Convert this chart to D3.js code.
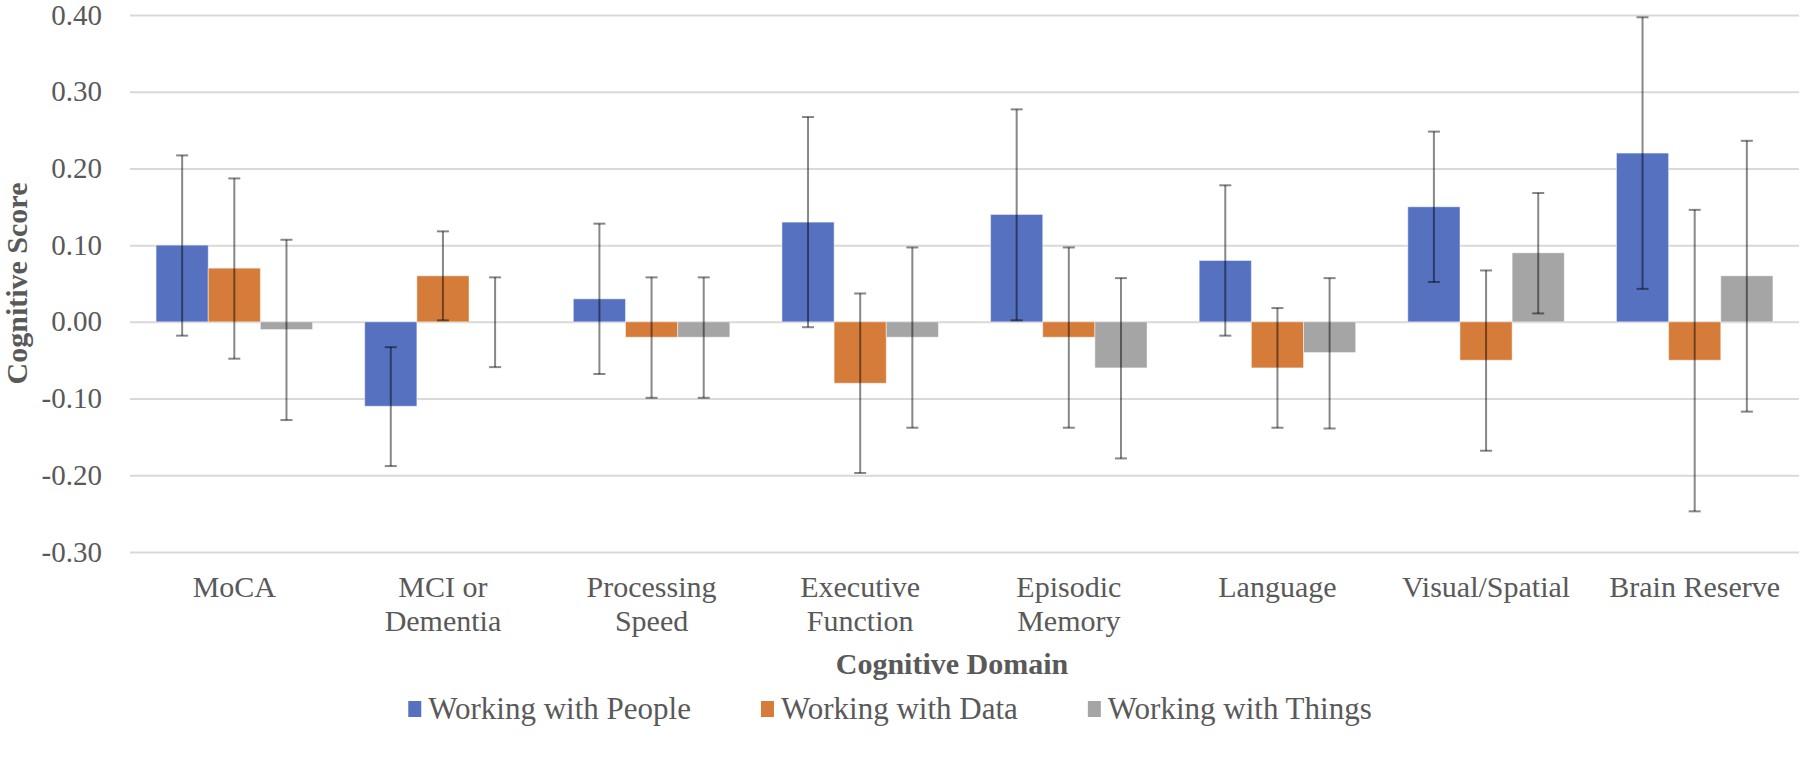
<!DOCTYPE html>
<html>
<head>
<meta charset="utf-8">
<script src="https://cdn.jsdelivr.net/npm/d3@7"></script>
<style>
    body { margin: 0; background: #fff; }
    text { font-family: "Liberation Serif", "Times New Roman", serif; fill: #595959; }
</style>
</head>
<body>
<script>
/* -------------------------- Data -------------------------- */
const categories = ["MoCA", "MCI or Dementia", "Processing Speed", "Executive Function",
    "Episodic Memory", "Language", "Visual/Spatial", "Brain Reserve"];
// how each category label wraps
const categoryLines = [["MoCA"], ["MCI or", "Dementia"], ["Processing", "Speed"], ["Executive", "Function"],
    ["Episodic", "Memory"], ["Language"], ["Visual/Spatial"], ["Brain Reserve"]];
const seriesNames = ["Working with People", "Working with Data", "Working with Things"];

const peopleValues = [0.10, -0.11, 0.03, 0.13, 0.14, 0.08, 0.15, 0.22];
const peopleLow = [-0.018, -0.188, -0.068, -0.007, 0.002, -0.018, 0.052, 0.043];
const peopleHigh = [0.217, -0.033, 0.128, 0.267, 0.277, 0.178, 0.248, 0.397];

const dataValues = [0.07, 0.06, -0.02, -0.08, -0.02, -0.06, -0.05, -0.05];
const dataLow = [-0.048, 0.002, -0.099, -0.197, -0.138, -0.138, -0.168, -0.247];
const dataHigh = [0.187, 0.118, 0.058, 0.037, 0.097, 0.018, 0.067, 0.146];

const thingsValues = [-0.01, 0.00, -0.02, -0.02, -0.06, -0.04, 0.09, 0.06];
const thingsLow = [-0.128, -0.059, -0.099, -0.138, -0.178, -0.139, 0.011, -0.117];
const thingsHigh = [0.107, 0.058, 0.058, 0.097, 0.057, 0.057, 0.168, 0.236];

const yTicks = [-0.30, -0.20, -0.10, 0.00, 0.10, 0.20, 0.30, 0.40];

/* -------------------------- Layout -------------------------- */
const width = 1800;
const height = 760;
const plot = { left: 130, right: 1799, top: 15, bottom: 552 };
const colors = ["#5571c0", "#d57c3a", "#a5a5a5"];
const capWidth = 12;

// one row per category/series pair
const series = [
    { values: peopleValues, low: peopleLow, high: peopleHigh },
    { values: dataValues, low: dataLow, high: dataHigh },
    { values: thingsValues, low: thingsLow, high: thingsHigh }
];
const rows = [];
categories.forEach((c, i) => {
    series.forEach((s, j) => {
        rows.push({ cat: c, name: seriesNames[j], idx: j, value: s.values[i], low: s.low[i], high: s.high[i] });
    });
});

const svg = d3.select("body").append("svg")
    .attr("width", width)
    .attr("height", height);

/* -------------------------- Scales -------------------------- */
const x0 = d3.scaleBand()
    .domain(categories)
    .range([plot.left, plot.right])
    .paddingInner(0)
    .paddingOuter(0);
const x1 = d3.scaleBand()
    .domain(seriesNames)
    .range([0, x0.bandwidth()])
    .paddingInner(0)
    .paddingOuter(0.5);
const y = d3.scaleLinear()
    .domain([-0.3, 0.4])
    .range([plot.bottom, plot.top]);

// Excel style labels: plain hyphen for negatives
const fmt = d => (d < 0 ? "-" : "") + Math.abs(d).toFixed(2);

/* -------------------------- Gridlines + y labels -------------------------- */
const yAxis = svg.append("g")
    .attr("transform", `translate(${plot.left},0)`)
    .call(d3.axisLeft(y).tickValues(yTicks).tickSize(-(plot.right - plot.left)).tickFormat(""));
yAxis.select(".domain").remove();
yAxis.selectAll(".tick line").attr("stroke", "#d9d9d9").attr("stroke-width", 2);

svg.append("g")
    .selectAll("text")
    .data(yTicks)
    .join("text")
    .attr("x", 102)
    .attr("y", d => y(d))
    .attr("dy", "0.33em")
    .attr("text-anchor", "end")
    .attr("font-size", 29)
    .text(fmt);

/* -------------------------- Bars -------------------------- */
svg.append("g")
    .selectAll("rect")
    .data(rows)
    .join("rect")
    .attr("x", d => x0(d.cat) + x1(d.name))
    .attr("width", x1.bandwidth())
    .attr("y", d => y(Math.max(0, d.value)))
    .attr("height", d => Math.abs(y(d.value) - y(0)))
    .attr("fill", d => colors[d.idx])
    .attr("stroke", "#ffffff")
    .attr("stroke-opacity", 0.45)
    .attr("stroke-width", 1);

/* -------------------------- Error bars -------------------------- */
const errors = svg.append("g")
    .attr("stroke", "rgba(0,0,0,0.47)")
    .attr("stroke-width", 2)
    .selectAll("g")
    .data(rows)
    .join("g")
    .attr("transform", d => `translate(${x0(d.cat) + x1(d.name) + x1.bandwidth() / 2},0)`);
errors.append("line")
    .attr("y1", d => y(d.high))
    .attr("y2", d => y(d.low));
errors.append("line")
    .attr("x1", -capWidth / 2).attr("x2", capWidth / 2)
    .attr("y1", d => y(d.high)).attr("y2", d => y(d.high));
errors.append("line")
    .attr("x1", -capWidth / 2).attr("x2", capWidth / 2)
    .attr("y1", d => y(d.low)).attr("y2", d => y(d.low));

/* -------------------------- Category labels -------------------------- */
const catLabels = svg.append("g")
    .selectAll("text")
    .data(categories)
    .join("text")
    .attr("x", d => x0(d) + x0.bandwidth() / 2)
    .attr("y", 597)
    .attr("text-anchor", "middle")
    .attr("font-size", 30);
catLabels.selectAll("tspan")
    .data((d, i) => categoryLines[i])
    .join("tspan")
    .attr("x", function () { return d3.select(this.parentNode).attr("x"); })
    .attr("dy", (d, i) => i === 0 ? 0 : 34)
    .text(d => d);

/* -------------------------- Axis titles -------------------------- */
svg.append("text")
    .attr("x", 952)
    .attr("y", 674)
    .attr("text-anchor", "middle")
    .attr("font-size", 30)
    .attr("font-weight", "bold")
    .text("Cognitive Domain");

svg.append("text")
    .attr("transform", `translate(27,${(plot.top + plot.bottom) / 2}) rotate(-90)`)
    .attr("text-anchor", "middle")
    .attr("font-size", 30)
    .attr("font-weight", "bold")
    .text("Cognitive Score");

/* -------------------------- Legend -------------------------- */
const legend = svg.append("g");
const items = legend.selectAll("g")
    .data(seriesNames)
    .join("g");
items.append("rect")
    .attr("width", 13)
    .attr("height", 16)
    .attr("y", -18)
    .attr("fill", (d, i) => colors[i]);
items.append("text")
    .attr("x", 20)
    .attr("font-size", 31)
    .text(d => d);

// lay out items side by side, then center the block
const legendGap = 70;
let cursor = 0;
items.each(function () {
    const w = 20 + d3.select(this).select("text").node().getComputedTextLength();
    d3.select(this).attr("transform", `translate(${cursor},0)`);
    cursor += w + legendGap;
});
const legendWidth = cursor - legendGap;
legend.attr("transform", `translate(${890 - legendWidth / 2},719)`);
</script>
</body>
</html>
